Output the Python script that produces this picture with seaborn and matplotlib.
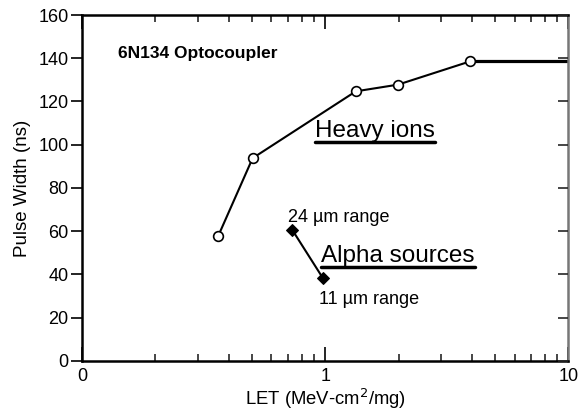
import numpy as np
import pandas as pd
import seaborn as sns
import matplotlib
matplotlib.use("Agg")
import matplotlib.pyplot as plt
from matplotlib.ticker import FixedLocator, LogLocator, NullFormatter
from matplotlib.lines import Line2D

# Heavy-ion pulse widths vs LET
ion_let = [0.363, 0.502, 1.334, 1.99, 3.95]
ion_width = [58.0, 93.8, 124.7, 127.8, 138.6]

# Saturated pulse width carried out to the end of the LET range
sat_let = [3.95, 10.0]
sat_width = [138.6, 138.6]

# Alpha-source pulse widths (24 um and 11 um range)
alpha_let = [0.729, 0.978]
alpha_width = [60.8, 38.2]
alpha_labels = ["24 \u00b5m range", "11 \u00b5m range"]

x_ticks = [0.1, 1, 10]
x_ticklabels = ["0", "1", "10"]
y_ticks = [0, 20, 40, 60, 80, 100, 120, 140, 160]

sns.set_theme(style="white")
plt.rcParams["font.family"] = ["Liberation Sans", "DejaVu Sans"]

fig = plt.figure(figsize=(5.82, 4.11), dpi=100)
ax = fig.add_axes([0.1414, 0.1217, 0.8354, 0.8418])

ions = pd.DataFrame({"LET": ion_let, "Width": ion_width})
sat = pd.DataFrame({"LET": sat_let, "Width": sat_width})
alpha = pd.DataFrame({"LET": alpha_let, "Width": alpha_width})

sns.lineplot(data=sat, x="LET", y="Width", ax=ax, color="black",
             linewidth=2.3, zorder=2)
sns.lineplot(data=ions, x="LET", y="Width", ax=ax, color="black",
             linewidth=1.5, marker="o", markersize=7,
             markerfacecolor="white", markeredgecolor="black",
             markeredgewidth=1.2, zorder=3)
sns.lineplot(data=alpha, x="LET", y="Width", ax=ax, color="black",
             linewidth=1.5, marker="D", markersize=6.5,
             markerfacecolor="black", markeredgecolor="black", zorder=3)

ax.set_xscale("log")
ax.set_xlim(0.1, 10)
ax.set_ylim(0, 160)

ax.xaxis.set_major_locator(FixedLocator(x_ticks))
ax.set_xticklabels(x_ticklabels)
ax.xaxis.set_minor_locator(LogLocator(base=10, subs=np.arange(2, 10)))
ax.xaxis.set_minor_formatter(NullFormatter())
ax.set_yticks(y_ticks)

ax.tick_params(axis="x", which="major", direction="in", length=10, width=1.2,
               top=True, bottom=True, labelsize=13, pad=5, colors="black")
ax.tick_params(axis="x", which="minor", direction="in", length=5, width=1.2,
               top=True, bottom=True)
ax.tick_params(axis="y", which="major", direction="out", length=8, width=1.2,
               left=True, right=False, labelsize=13, pad=2, colors="black")
# inward ticks on the right side
ax2 = ax.twinx()
ax2.set_ylim(0, 160)
ax2.set_yticks(y_ticks)
ax2.tick_params(axis="y", direction="in", length=7, width=1.2, labelright=False)
ax2.spines[:].set_visible(False)

for side in ["left", "bottom", "top"]:
    ax.spines[side].set_color("black")
    ax.spines[side].set_linewidth(1.8)
ax.spines["right"].set_color("#777777")
ax.spines["right"].set_linewidth(1.8)

ax.set_xlabel("LET (MeV-cm$^{2}$/mg)", fontsize=13.3, labelpad=1.5, color="black")
ax.set_ylabel("Pulse Width (ns)", fontsize=13.5, labelpad=5, color="black")

ax.text(0.073, 0.89, "6N134 Optocoupler", transform=ax.transAxes,
        fontsize=12.5, fontweight="bold", va="center", ha="left", color="black")

for (xl, yl), lab in zip([(0.423, 0.4026), (0.4868, 0.1656)], alpha_labels):
    ax.text(xl, yl, lab, transform=ax.transAxes, fontsize=13,
            va="baseline", ha="left", color="black")

headings = []
for (xh, yh), lab in zip([(0.4786, 0.6465), (0.491, 0.285)],
                         ["Heavy ions", "Alpha sources"]):
    headings.append(ax.text(xh, yh, lab, transform=ax.transAxes,
                            fontsize=17.5, va="baseline", ha="left",
                            color="black"))

# underline the group headings
fig.canvas.draw()
renderer = fig.canvas.get_renderer()
inv = fig.transFigure.inverted()
for t in headings:
    bb = t.get_window_extent(renderer)
    base = ax.transAxes.transform(t.get_position())[1]
    y0 = base - 4.5
    (x0f, y0f) = inv.transform((bb.x0, y0))
    (x1f, _) = inv.transform((bb.x1, y0))
    fig.add_artist(Line2D([x0f, x1f], [y0f, y0f], color="black",
                          linewidth=2.5, transform=fig.transFigure))

fig.savefig("out.png", dpi=100)
